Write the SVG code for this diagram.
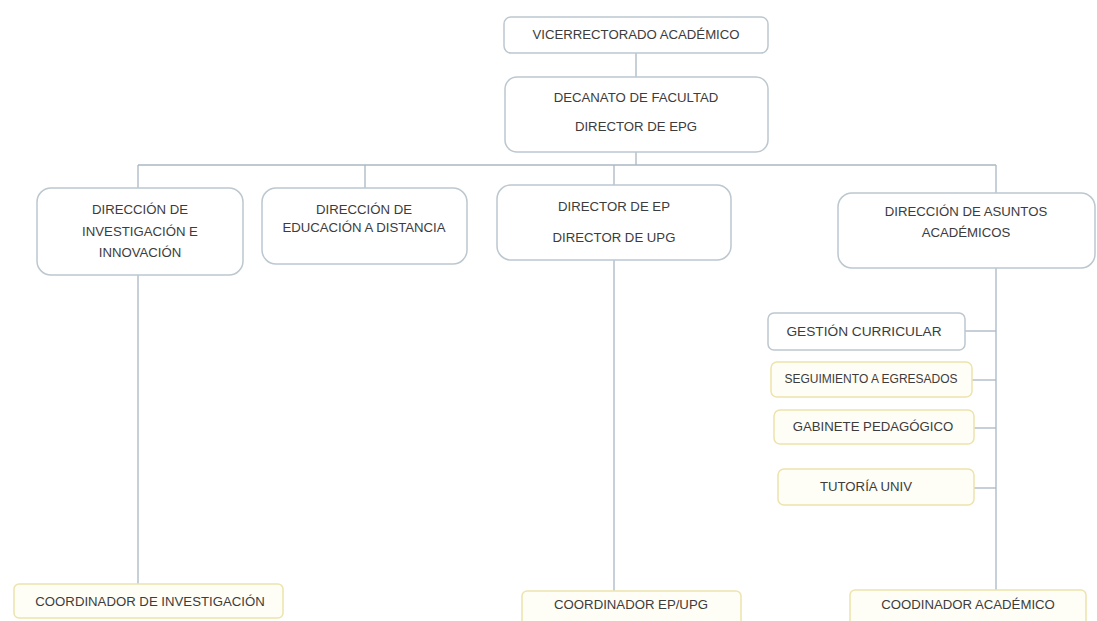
<svg xmlns="http://www.w3.org/2000/svg" width="1097" height="621" viewBox="0 0 1097 621">
  <defs>
    <style>
      .box { fill: #ffffff; stroke: #bcc7cf; stroke-width: 1.5; }
      .sub { fill: #fffef6; stroke: #ede3ad; stroke-width: 1.5; }
      .link { fill: none; stroke: #a9b7c3; stroke-width: 1.3; }
      .lbl { font-family: "Liberation Sans", "DejaVu Sans", sans-serif; font-size: 13.2px; fill: #3c3c3c; text-anchor: middle; dominant-baseline: middle; }
      .small { font-size: 12px; }
      .big { font-size: 13.7px; }
    </style>
  </defs>
  <rect width="1097" height="621" fill="#ffffff"/>

  <!-- connectors -->
  <g id="connectors">
    <path class="link" d="M636 53 V77"/>
    <path class="link" d="M636 152 V165"/>
    <path class="link" d="M138 165 H996"/>
    <path class="link" d="M138 165 V188"/>
    <path class="link" d="M365 165 V188"/>
    <path class="link" d="M614 165 V185"/>
    <path class="link" d="M996 165 V193"/>
    <path class="link" d="M138 275 V584"/>
    <path class="link" d="M614 260 V591"/>
    <path class="link" d="M996 268 V590"/>
    <path class="link" d="M965 331 H996"/>
    <path class="link" d="M972 380 H996"/>
    <path class="link" d="M974 428 H996"/>
    <path class="link" d="M974 488 H996"/>
  </g>

  <g id="vicerrectorado">
    <rect class="box" x="504" y="17" width="264" height="36" rx="7"/>
    <text class="lbl" x="636" y="36">VICERRECTORADO ACADÉMICO</text>
  </g>

  <g id="decanato">
    <rect class="box" x="505" y="77" width="263" height="75" rx="12"/>
    <text class="lbl" x="636" y="99">DECANATO DE FACULTAD</text>
    <text class="lbl" x="636" y="128">DIRECTOR DE EPG</text>
  </g>

  <g id="dir-investigacion">
    <rect class="box" x="37" y="188" width="206" height="87" rx="14"/>
    <text class="lbl" x="140" y="211">DIRECCIÓN DE</text>
    <text class="lbl" x="140" y="233">INVESTIGACIÓN E</text>
    <text class="lbl" x="140" y="254">INNOVACIÓN</text>
  </g>

  <g id="dir-educacion">
    <rect class="box" x="262" y="188" width="205" height="76" rx="14"/>
    <text class="lbl" x="364" y="211">DIRECCIÓN DE</text>
    <text class="lbl" x="364" y="229">EDUCACIÓN A DISTANCIA</text>
  </g>

  <g id="director-ep">
    <rect class="box" x="497" y="185" width="234" height="75" rx="14"/>
    <text class="lbl" x="614" y="208">DIRECTOR DE EP</text>
    <text class="lbl" x="614" y="239">DIRECTOR DE UPG</text>
  </g>

  <g id="dir-asuntos">
    <rect class="box" x="838" y="193" width="257" height="75" rx="14"/>
    <text class="lbl" x="966" y="213">DIRECCIÓN DE ASUNTOS</text>
    <text class="lbl" x="966" y="234">ACADÉMICOS</text>
  </g>

  <g id="gestion">
    <rect class="box" x="768" y="313" width="197" height="37" rx="6"/>
    <text class="lbl big" x="864" y="332">GESTIÓN CURRICULAR</text>
  </g>

  <g id="seguimiento">
    <rect class="sub" x="771" y="362" width="201" height="35" rx="6"/>
    <text class="lbl small" x="871" y="380">SEGUIMIENTO A EGRESADOS</text>
  </g>

  <g id="gabinete">
    <rect class="sub" x="774" y="410" width="200" height="34" rx="6"/>
    <text class="lbl" x="873" y="428">GABINETE PEDAGÓGICO</text>
  </g>

  <g id="tutoria">
    <rect class="sub" x="778" y="469" width="196" height="36" rx="6"/>
    <text class="lbl" x="866" y="488">TUTORÍA UNIV</text>
  </g>

  <g id="coord-investigacion">
    <rect class="sub" x="14" y="584" width="269" height="34" rx="5"/>
    <text class="lbl" x="150" y="603">COORDINADOR DE INVESTIGACIÓN</text>
  </g>

  <g id="coord-ep-upg">
    <rect class="sub" x="522" y="591" width="219" height="36" rx="5"/>
    <text class="lbl" x="631" y="606">COORDINADOR EP/UPG</text>
  </g>

  <g id="coord-academico">
    <rect class="sub" x="850" y="590" width="236" height="37" rx="5"/>
    <text class="lbl" x="968" y="606">COODINADOR ACADÉMICO</text>
  </g>
</svg>
